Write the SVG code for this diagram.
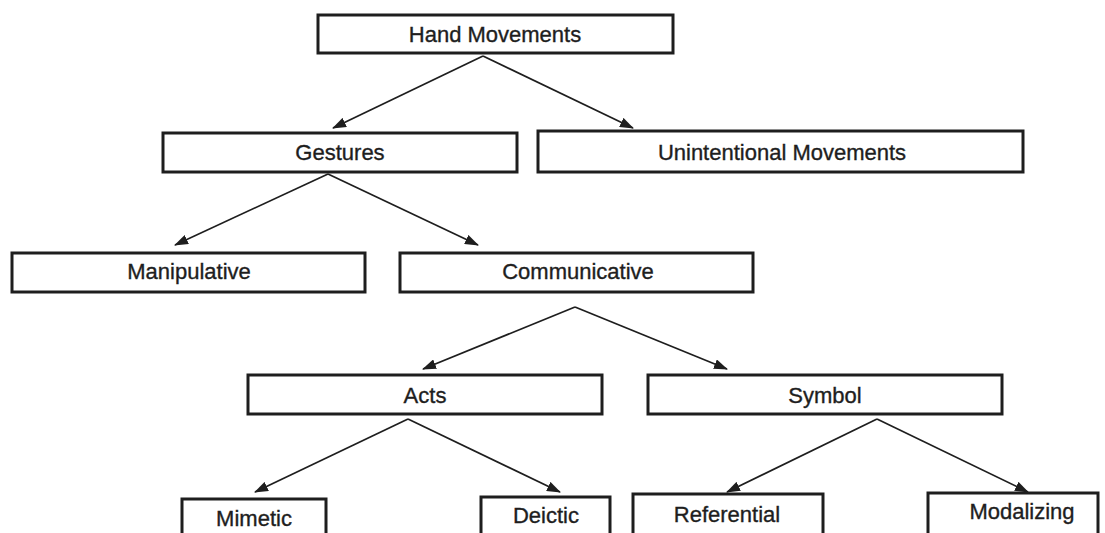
<svg xmlns="http://www.w3.org/2000/svg" width="1105" height="533" viewBox="0 0 1105 533">
<style>
.box{fill:#fff;stroke:#1e1e1e;stroke-width:3}
.lbl{font-family:"Liberation Sans",Arial,sans-serif;font-size:22px;fill:#1e1e1e;stroke:#1e1e1e;stroke-width:0.35;text-anchor:middle}
.edge{stroke:#1e1e1e;stroke-width:1.7;fill:none;marker-end:url(#ah)}
</style>
<defs>
<marker id="ah" markerUnits="userSpaceOnUse" markerWidth="14" markerHeight="10" viewBox="0 0 14 10" refX="13" refY="5" orient="auto">
<path d="M0,0 L14,5 L0,10 Z" fill="#1e1e1e"/>
</marker>
</defs>
<rect width="1105" height="533" fill="#fff"/>
<g id="connectors">
<line class="edge" x1="483" y1="56" x2="333" y2="128"/>
<line class="edge" x1="483" y1="56" x2="633" y2="128"/>
<line class="edge" x1="328" y1="174" x2="175" y2="245"/>
<line class="edge" x1="328" y1="174" x2="478" y2="245"/>
<line class="edge" x1="575" y1="307" x2="423" y2="369"/>
<line class="edge" x1="575" y1="307" x2="727" y2="369"/>
<line class="edge" x1="408" y1="419" x2="255" y2="492"/>
<line class="edge" x1="408" y1="419" x2="560" y2="492"/>
<line class="edge" x1="877" y1="419" x2="727" y2="492"/>
<line class="edge" x1="877" y1="419" x2="1028" y2="492"/>
</g>
<g id="hand"><rect class="box" x="318" y="15" width="355" height="38"/><text class="lbl" x="495" y="42">Hand Movements</text></g>
<g id="gestures"><rect class="box" x="163" y="133" width="354" height="39"/><text class="lbl" x="340" y="160">Gestures</text></g>
<g id="unintentional"><rect class="box" x="538" y="131" width="485" height="41"/><text class="lbl" x="782" y="160">Unintentional Movements</text></g>
<g id="manipulative"><rect class="box" x="12" y="253" width="353" height="39"/><text class="lbl" x="189" y="279">Manipulative</text></g>
<g id="communicative"><rect class="box" x="400" y="253" width="353" height="39"/><text class="lbl" x="578" y="279">Communicative</text></g>
<g id="acts"><rect class="box" x="248" y="375" width="354" height="39"/><text class="lbl" x="425" y="403">Acts</text></g>
<g id="symbol"><rect class="box" x="648" y="375" width="354" height="39"/><text class="lbl" x="825" y="403">Symbol</text></g>
<g id="mimetic"><rect class="box" x="182" y="499" width="144" height="50"/><text class="lbl" x="254" y="526">Mimetic</text></g>
<g id="deictic"><rect class="box" x="481" y="497" width="129" height="50"/><text class="lbl" x="546" y="523">Deictic</text></g>
<g id="referential"><rect class="box" x="633" y="494" width="190" height="50"/><text class="lbl" x="727" y="522">Referential</text></g>
<g id="modalizing"><rect class="box" x="928" y="493" width="170" height="50"/><text class="lbl" x="1022" y="519">Modalizing</text></g>
</svg>
